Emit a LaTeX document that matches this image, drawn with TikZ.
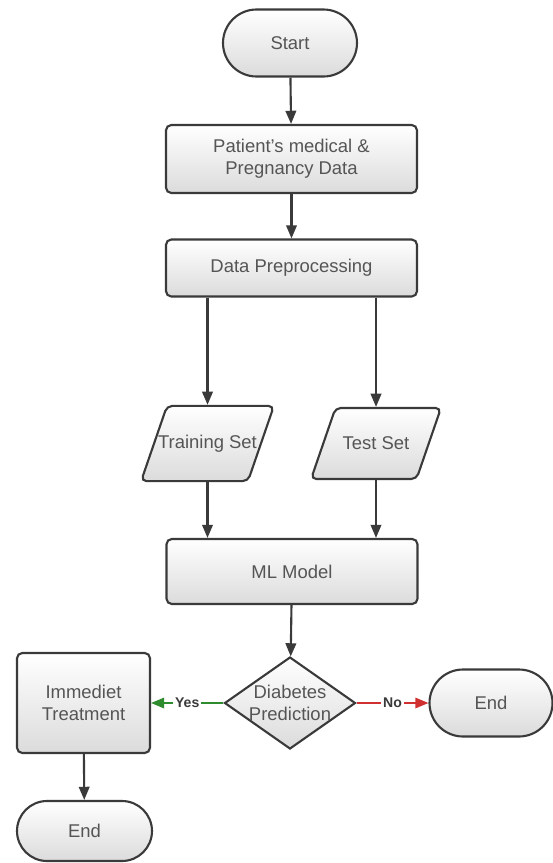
\documentclass[tikz,border=0pt]{standalone}
\usepackage{fontspec}
\setmainfont{Liberation Sans}
\usetikzlibrary{shapes.geometric,shapes.misc,arrows.meta}
\definecolor{linec}{HTML}{3A3A3A}
\definecolor{textc}{HTML}{555555}
\definecolor{yesc}{HTML}{2E8B2E}
\definecolor{noc}{HTML}{D03030}
\newcommand{\iobox}[1]{\makebox[1.55cm]{#1}}
\begin{document}
\begin{tikzpicture}[
    base/.style={draw=linec,line width=1.2pt,top color=white,bottom color=black!14,
      text=textc,align=center,font=\fontsize{10.5}{12.5}\selectfont,inner sep=0pt},
    term/.style={base,rounded rectangle},
    proc/.style={base,rectangle,rounded corners=3pt},
    io/.style={base,trapezium,trapezium left angle=71,trapezium right angle=109,
      rounded corners=3pt,inner xsep=1pt,inner ysep=16.5pt},
    dec/.style={base,diamond,inner sep=-8pt},
    arr/.style={->,>={Triangle[length=7.5pt,width=6pt]},line width=1.2pt,draw=linec},
    lab/.style={fill=white,text=linec,inner sep=1pt,font=\fontsize{8}{9}\selectfont\bfseries}]

    \useasboundingbox (0,0) rectangle (11.06,-17.26);

    % the boxes

    \node[term,minimum width=2.68cm,minimum height=1.34cm] (start) at (5.8,-0.86) {Start};
    \node[proc,minimum width=5.02cm,minimum height=1.36cm] (patient) at (5.83,-3.18)
      {Patient's medical \&\\Pregnancy Data};
    \node[proc,minimum width=5.02cm,minimum height=1.14cm] (prep) at (5.83,-5.36)
      {Data Preprocessing};
    \node[io] (train) at (4.15,-8.87) {\iobox{Training Set}};
    \node[io] (test) at (7.52,-8.87) {\iobox{Test Set}};
    \node[proc,minimum width=5.02cm,minimum height=1.3cm] (model) at (5.84,-11.43)
      {ML Model};
    \node[dec,minimum width=2.62cm,minimum height=1.84cm] (pred) at (5.8,-14.06)
      {Diabetes\\Prediction};
    \node[proc,minimum width=2.66cm,minimum height=2cm] (treat) at (1.67,-14.06)
      {Immediet\\Treatment};
    \node[term,minimum width=2.46cm,minimum height=1.34cm] (endno) at (9.82,-14.06) {End};
    \node[term,minimum width=2.7cm,minimum height=1.2cm] (endyes) at (1.69,-16.62) {End};

    % the arrows

    \draw[arr] (start) -- (patient);
    \draw[arr] (patient) -- (prep);
    \draw[arr] (prep.south -| train.north) -- (train.north);
    \draw[arr] (prep.south -| test.north) -- (test.north);
    \draw[arr] (train.south) -- (train.south |- model.north);
    \draw[arr] (test.south) -- (test.south |- model.north);
    \draw[arr] (model) -- (pred);
    \draw[arr,draw=yesc,line width=0.9pt] (pred) -- node[lab]{Yes} (treat);
    \draw[arr,draw=noc,line width=0.9pt] (pred) -- node[lab]{No} (endno);
    \draw[arr] (treat) -- (endyes);
\end{tikzpicture}
\end{document}
